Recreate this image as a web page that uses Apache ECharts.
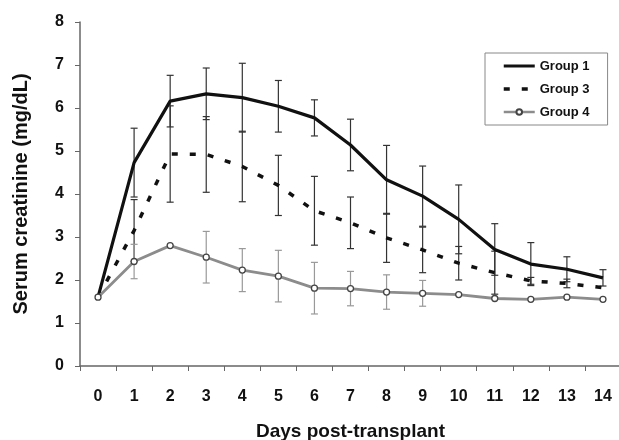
<!DOCTYPE html>
<html>
<head>
<meta charset="utf-8">
<script src="https://cdn.jsdelivr.net/npm/echarts@6/dist/echarts.min.js"></script>
<style>
html,body{margin:0;padding:0;background:#fff;}
#chart{width:619px;height:440px;}
</style>
</head>
<body>
<div id="chart"></div>
<script>
// ---- data ----
const days = ['0','1','2','3','4','5','6','7','8','9','10','11','12','13','14'];
const group1 = [1.6, 4.73, 6.16, 6.33, 6.24, 6.04, 5.77, 5.14, 4.33, 3.95, 3.41, 2.71, 2.37, 2.25, 2.05];
const group1Err = [0, 0.8, 0.6, 0.6, 0.8, 0.6, 0.42, 0.6, 0.8, 0.7, 0.8, 0.6, 0.5, 0.29, 0.19];
const group3 = [1.6, 3.15, 4.93, 4.92, 4.64, 4.2, 3.61, 3.33, 2.98, 2.7, 2.39, 2.17, 1.98, 1.92, 1.82];
const group3Err = [0, 0.72, 1.12, 0.88, 0.82, 0.7, 0.8, 0.6, 0.57, 0.53, 0.39, 0.5, 0.08, 0.1, 0];
const group4 = [1.6, 2.43, 2.8, 2.53, 2.23, 2.09, 1.81, 1.8, 1.72, 1.69, 1.66, 1.57, 1.55, 1.6, 1.55];
const group4Err = [0, 0.4, 0, 0.6, 0.5, 0.6, 0.6, 0.4, 0.4, 0.3, 0, 0, 0, 0, 0];
const yTicks = [0, 8, 1]; // min, max, interval

const FONT = 'Liberation Sans, Arial, sans-serif';
const chart = echarts.init(document.getElementById('chart'), null, {renderer: 'canvas'});

function errData(vals, errs) {
  return vals.map((v, i) => [i, v, errs[i]]);
}
function errSeries(name, vals, errs, color, width) {
  return {
    name: name,
    type: 'custom',
    z: 1,
    silent: true,
    data: errData(vals, errs),
    encode: {x: 0, y: 1},
    renderItem: function (params, api) {
      const x = api.value(0), m = api.value(1), e = api.value(2);
      if (!(e > 0)) return null;
      const top = api.coord([x, m + e]);
      const bot = api.coord([x, m - e]);
      const hw = 3.5;
      const style = {stroke: color, lineWidth: width};
      return {
        type: 'group',
        children: [
          {type: 'line', shape: {x1: top[0], y1: top[1], x2: bot[0], y2: bot[1]}, style: style},
          {type: 'line', shape: {x1: top[0] - hw, y1: top[1], x2: top[0] + hw, y2: top[1]}, style: style},
          {type: 'line', shape: {x1: bot[0] - hw, y1: bot[1], x2: bot[0] + hw, y2: bot[1]}, style: style}
        ]
      };
    }
  };
}

const option = {
  backgroundColor: '#fff',
  animation: false,
  textStyle: {fontFamily: FONT},
  grid: {left: 80, top: 22, width: 541, height: 344, containLabel: false, outerBoundsMode: 'none'},
  legend: {
    data: [
      {name: 'Group 1', itemStyle: {opacity: 0}, lineStyle: {width: 3}},
      {name: 'Group 3', itemStyle: {opacity: 0}, lineStyle: {width: 3.5}},
      {name: 'Group 4', lineStyle: {width: 2.5}}
    ],
    orient: 'vertical',
    left: 485,
    top: 53,
    padding: [6, 18, 6, 17],
    itemWidth: 31,
    itemHeight: 7,
    itemGap: 9,
    borderColor: '#888',
    borderWidth: 1,
    textStyle: {fontFamily: FONT, fontWeight: 'bold', fontSize: 13, color: '#111', lineHeight: 14}
  },
  xAxis: {
    type: 'category',
    data: days,
    boundaryGap: true,
    name: 'Days post-transplant',
    nameLocation: 'middle',
    nameGap: 56,
    nameTextStyle: {fontFamily: FONT, fontWeight: 'bold', fontSize: 19, color: '#111'},
    axisLine: {lineStyle: {color: '#666', width: 1.5}},
    axisTick: {show: true, inside: false, length: 5, lineStyle: {color: '#666', width: 1}},
    axisLabel: {margin: 23, fontFamily: FONT, fontWeight: 'bold', fontSize: 16, color: '#111'},
    splitLine: {show: false}
  },
  yAxis: {
    type: 'value',
    min: yTicks[0],
    max: yTicks[1],
    interval: yTicks[2],
    name: 'Serum creatinine (mg/dL)',
    nameLocation: 'middle',
    nameGap: 49,
    nameTextStyle: {fontFamily: FONT, fontWeight: 'bold', fontSize: 20, color: '#111'},
    axisLine: {show: true, lineStyle: {color: '#666', width: 1.5}},
    axisTick: {show: true, inside: false, length: 5, lineStyle: {color: '#666', width: 1}},
    axisLabel: {margin: 16, fontFamily: FONT, fontWeight: 'bold', fontSize: 16, color: '#111'},
    splitLine: {show: false}
  },
  series: [
    errSeries('Group 1 SD', group1, group1Err, '#333', 1.2),
    errSeries('Group 3 SD', group3, group3Err, '#333', 1.2),
    errSeries('Group 4 SD', group4, group4Err, '#999', 1.2),
    {
      name: 'Group 1',
      type: 'line',
      z: 3,
      data: group1,
      symbol: 'none',
      lineStyle: {color: '#111', width: 3.2},
      itemStyle: {color: '#111'}
    },
    {
      name: 'Group 3',
      type: 'line',
      z: 3,
      data: group3,
      symbol: 'none',
      lineStyle: {color: '#111', width: 3.5, type: [6, 12]},
      itemStyle: {color: '#111'}
    },
    {
      name: 'Group 4',
      type: 'line',
      z: 4,
      data: group4,
      symbol: 'circle',
      symbolSize: 6,
      showSymbol: true,
      lineStyle: {color: '#8c8c8c', width: 2.8},
      itemStyle: {color: '#fff', borderColor: '#444', borderWidth: 1.3}
    }
  ]
};
chart.setOption(option);
</script>
</body>
</html>
